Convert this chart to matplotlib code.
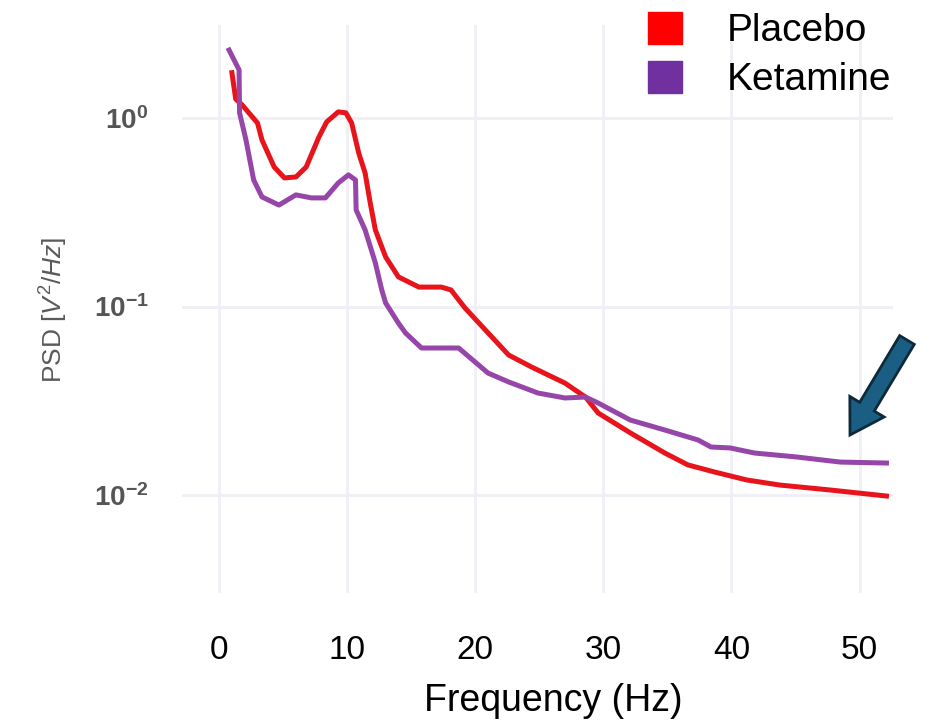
import numpy as np
import matplotlib
matplotlib.use("Agg")
import matplotlib.pyplot as plt
from matplotlib.patches import Patch, FancyArrow

# values (frequency in Hz, log10 of PSD)
placebo_f = [1.0, 1.3, 1.8, 3.0, 3.35, 4.3, 5.1, 6.0, 6.8, 7.8, 8.4, 9.3, 9.9,
             10.35, 10.9, 11.4, 11.8, 12.2, 13.0, 14.0, 15.6, 17.35, 18.1, 19.2,
             21.0, 22.6, 24.4, 27.0, 28.6, 29.6, 32.1, 34.8, 36.6, 38.7, 41.2,
             43.8, 47.7, 52.1]
placebo_log = [0.24, 0.10, 0.069, -0.027, -0.117, -0.26, -0.318, -0.313, -0.26,
               -0.10, -0.021, 0.032, 0.027, -0.027, -0.186, -0.292, -0.451,
               -0.594, -0.737, -0.843, -0.897, -0.897, -0.912, -1.008, -1.14,
               -1.257, -1.321, -1.406, -1.48, -1.565, -1.67, -1.777, -1.84,
               -1.878, -1.92, -1.947, -1.973, -2.005]

ketamine_f = [0.78, 1.56, 1.6, 2.1, 2.7, 3.35, 4.67, 6.0, 7.2, 8.3, 9.3, 10.1,
              10.65, 10.7, 11.4, 12.2, 12.7, 13.0, 14.0, 14.55, 15.8, 18.7, 21.0,
              22.6, 24.9, 27.0, 28.6, 29.6, 32.1, 34.8, 37.4, 38.4, 39.9, 41.8,
              45.1, 48.5, 52.1]
ketamine_log = [0.36, 0.255, 0.027, -0.117, -0.329, -0.419, -0.462, -0.408,
                -0.424, -0.424, -0.345, -0.302, -0.329, -0.488, -0.594, -0.769,
                -0.912, -0.981, -1.088, -1.14, -1.22, -1.22, -1.353, -1.40,
                -1.459, -1.485, -1.48, -1.512, -1.602, -1.655, -1.708, -1.745,
                -1.75, -1.777, -1.798, -1.825, -1.83]

x_ticks = [0, 10, 20, 30, 40, 50]
y_ticks = [1e-2, 1e-1, 1e0]
y_tick_labels = [r"$\mathbf{10^{-2}}$", r"$\mathbf{10^{-1}}$", r"$\mathbf{10^{0}}$"]

plt.rcParams["font.family"] = ["Liberation Sans", "DejaVu Sans"]
plt.rcParams["mathtext.fontset"] = "custom"
plt.rcParams["mathtext.rm"] = "Liberation Sans"
plt.rcParams["mathtext.bf"] = "Liberation Sans:bold"
plt.rcParams["mathtext.it"] = "Liberation Sans:italic"

fig = plt.figure(figsize=(9.33, 7.26), dpi=100)
ax = fig.add_axes([0.195, 0.183, 0.762, 0.7826])

ax.plot(placebo_f, 10 ** np.array(placebo_log), color="#e8141c", lw=3.6, zorder=3)
ax.plot(ketamine_f, 10 ** np.array(ketamine_log), color="#9546a8", lw=3.6, zorder=3)

ax.set_yscale("log")
ax.set_xlim(-2.9, 52.6)
ax.set_ylim(10 ** -2.52, 10 ** 0.493)
ax.set_xticks(x_ticks)
ax.set_yticks(y_ticks)
ax.set_yticklabels(y_tick_labels)
ax.yaxis.set_minor_locator(matplotlib.ticker.NullLocator())
ax.grid(True, color="#efeff5", lw=2)
ax.set_axisbelow(True)
for s in ax.spines.values():
    s.set_visible(False)
ax.tick_params(axis="both", length=0)
ax.tick_params(axis="x", pad=30, labelsize=24)
ax.tick_params(axis="y", pad=24, labelsize=20, labelcolor="#555555")

ax.set_xlabel("Frequency (Hz)", fontsize=27)
ax.xaxis.set_label_coords(0.522, -0.158)
ax.set_ylabel(r"PSD [$V^2/Hz$]", fontsize=19, color="#5a5a5a")
ax.yaxis.set_label_coords(-0.158, 0.498)

handles = [Patch(color="#ff0000", label="Placebo"),
           Patch(color="#7030a0", label="Ketamine")]
fig.legend(handles=handles, loc="upper left", bbox_to_anchor=(0.678, 1.005),
           frameon=False, fontsize=28, handlelength=0.88, handleheight=0.88,
           handletextpad=1.15, labelspacing=0.3, borderaxespad=0)

arrow = FancyArrow(9.07, 3.86, -0.57, -0.95, width=0.17, head_width=0.40,
                   head_length=0.33, length_includes_head=True,
                   transform=fig.dpi_scale_trans, facecolor="#1b5e83",
                   edgecolor="#0e2a3a", lw=2)
fig.add_artist(arrow)

fig.savefig("out.png", dpi=100)
